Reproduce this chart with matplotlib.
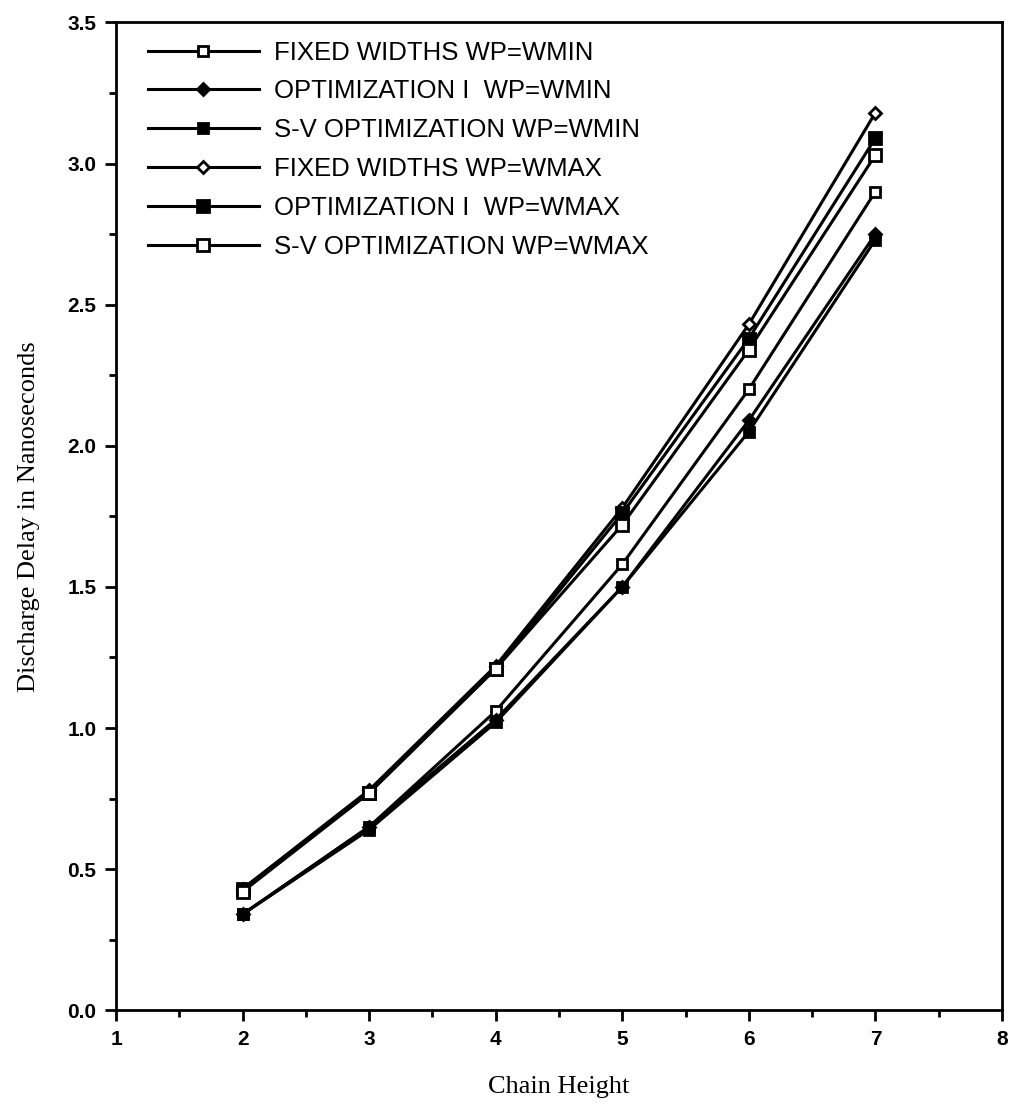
import matplotlib.pyplot as plt
from matplotlib.ticker import MultipleLocator

# chain height on x axis
chain_height = [2, 3, 4, 5, 6, 7]

# discharge delay (ns) per series
fixed_wmin = [0.34, 0.65, 1.06, 1.58, 2.20, 2.90]
opt1_wmin = [0.34, 0.65, 1.03, 1.50, 2.09, 2.75]
sv_wmin = [0.34, 0.64, 1.02, 1.50, 2.05, 2.73]
fixed_wmax = [0.43, 0.78, 1.22, 1.78, 2.43, 3.18]
opt1_wmax = [0.43, 0.77, 1.21, 1.76, 2.38, 3.09]
sv_wmax = [0.42, 0.77, 1.21, 1.72, 2.34, 3.03]

labels = [
    "FIXED WIDTHS WP=WMIN",
    "OPTIMIZATION I  WP=WMIN",
    "S-V OPTIMIZATION WP=WMIN",
    "FIXED WIDTHS WP=WMAX",
    "OPTIMIZATION I  WP=WMAX",
    "S-V OPTIMIZATION WP=WMAX",
]

series = [fixed_wmin, opt1_wmin, sv_wmin, fixed_wmax, opt1_wmax, sv_wmax]
# marker, size, face colour
styles = [
    ("s", 7, "white"),
    ("D", 6, "black"),
    ("s", 7, "black"),
    ("D", 6, "white"),
    ("s", 8, "black"),
    ("s", 9, "white"),
]

fig = plt.figure(figsize=(10.09, 11.2), dpi=100)
ax = fig.add_axes([0.115, 0.098, 0.878, 0.882])

for ys, lab, (m, ms, fc) in zip(series, labels, styles):
    ax.plot(chain_height, ys, color="black", lw=2.2, marker=m, markersize=ms,
            markerfacecolor=fc, markeredgecolor="black", markeredgewidth=2,
            label=lab)

ax.set_xlim(1, 8)
ax.set_ylim(0, 3.5)
ax.xaxis.set_major_locator(MultipleLocator(1))
ax.xaxis.set_minor_locator(MultipleLocator(0.5))
ax.yaxis.set_major_locator(MultipleLocator(0.5))
ax.yaxis.set_minor_locator(MultipleLocator(0.25))
ax.yaxis.set_major_formatter(plt.FormatStrFormatter("%.1f"))
ax.tick_params(which="major", direction="out", length=8, width=2,
               labelsize=15, pad=6)
ax.tick_params(which="minor", direction="out", length=5, width=2)
for t in ax.get_xticklabels() + ax.get_yticklabels():
    t.set_fontfamily("Liberation Sans")
    t.set_fontweight("bold")
for s in ax.spines.values():
    s.set_linewidth(2)

ax.set_xlabel("Chain Height", fontfamily="Liberation Serif", fontsize=19,
              labelpad=20)
ax.set_ylabel("Discharge Delay in Nanoseconds", fontfamily="Liberation Serif",
              fontsize=19, labelpad=20)

ax.legend(loc="upper left", bbox_to_anchor=(0.01, 1.005), frameon=False,
          handlelength=4.3, handletextpad=0.6, labelspacing=0.58,
          prop={"family": "Liberation Sans", "size": 18.5})

fig.savefig("out.png", dpi=100)
plt.close()
